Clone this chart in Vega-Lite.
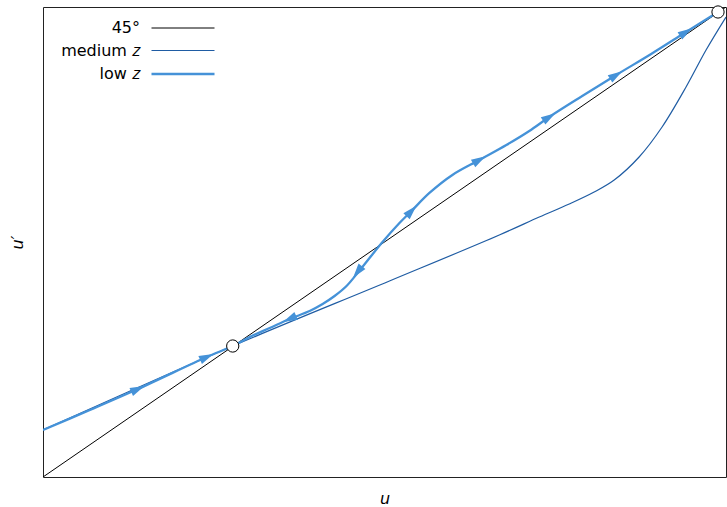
{
  "$schema": "https://vega.github.io/schema/vega-lite/v6.json",
  "width": 683,
  "height": 470,
  "autosize": {"type": "none"},
  "padding": {"left": 43, "top": 7, "right": 1, "bottom": 30},
  "background": "white",
  "config": {
    "font": "DejaVu Sans",
    "view": {"stroke": "#222222", "strokeWidth": 1},
    "axis": {"grid": false, "ticks": false, "labels": false, "domain": false, "titleFont": "DejaVu Sans", "titleFontSize": 16, "titleFontWeight": "normal", "titleFontStyle": "italic", "titleColor": "#000000"}
  },
  "datasets": {
    "curves": [
      {"series": "45°", "u": 0, "v": 0},
      {"series": "45°", "u": 1, "v": 1},
      {"series": "medium 𝑧", "u": 0, "v": 0.1},
      {"series": "medium 𝑧", "u": 0.2778, "v": 0.2787},
      {"series": "medium 𝑧", "u": 0.5073, "v": 0.417},
      {"series": "medium 𝑧", "u": 0.6681, "v": 0.5149},
      {"series": "medium 𝑧", "u": 0.7266, "v": 0.5532},
      {"series": "medium 𝑧", "u": 0.7705, "v": 0.5809},
      {"series": "medium 𝑧", "u": 0.807, "v": 0.6064},
      {"series": "medium 𝑧", "u": 0.8363, "v": 0.6319},
      {"series": "medium 𝑧", "u": 0.8728, "v": 0.6809},
      {"series": "medium 𝑧", "u": 0.9064, "v": 0.7447},
      {"series": "medium 𝑧", "u": 0.9415, "v": 0.8298},
      {"series": "medium 𝑧", "u": 0.9708, "v": 0.9085},
      {"series": "medium 𝑧", "u": 1.0, "v": 0.9787},
      {"series": "low 𝑧", "u": 0, "v": 0.1},
      {"series": "low 𝑧", "u": 0.0687, "v": 0.1426},
      {"series": "low 𝑧", "u": 0.1389, "v": 0.1872},
      {"series": "low 𝑧", "u": 0.2398, "v": 0.2553},
      {"series": "low 𝑧", "u": 0.2778, "v": 0.2787},
      {"series": "low 𝑧", "u": 0.3026, "v": 0.2979},
      {"series": "low 𝑧", "u": 0.3319, "v": 0.317},
      {"series": "low 𝑧", "u": 0.3611, "v": 0.3362},
      {"series": "low 𝑧", "u": 0.3904, "v": 0.3532},
      {"series": "low 𝑧", "u": 0.4094, "v": 0.3681},
      {"series": "low 𝑧", "u": 0.4269, "v": 0.3851},
      {"series": "low 𝑧", "u": 0.4444, "v": 0.4064},
      {"series": "low 𝑧", "u": 0.4605, "v": 0.434},
      {"series": "low 𝑧", "u": 0.4781, "v": 0.466},
      {"series": "low 𝑧", "u": 0.4971, "v": 0.5},
      {"series": "low 𝑧", "u": 0.5219, "v": 0.5404},
      {"series": "low 𝑧", "u": 0.5395, "v": 0.566},
      {"series": "low 𝑧", "u": 0.5658, "v": 0.6043},
      {"series": "low 𝑧", "u": 0.5994, "v": 0.6426},
      {"series": "low 𝑧", "u": 0.6389, "v": 0.6745},
      {"series": "low 𝑧", "u": 0.6784, "v": 0.7064},
      {"series": "low 𝑧", "u": 0.712, "v": 0.7362},
      {"series": "low 𝑧", "u": 0.7412, "v": 0.766},
      {"series": "low 𝑧", "u": 0.7895, "v": 0.8106},
      {"series": "low 𝑧", "u": 0.8392, "v": 0.8553},
      {"series": "low 𝑧", "u": 0.8904, "v": 0.9},
      {"series": "low 𝑧", "u": 0.9415, "v": 0.9468},
      {"series": "low 𝑧", "u": 0.9883, "v": 0.9894}
    ],
    "arrows": [
      {"u": 0.1389, "v": 0.1872, "angle": 336},
      {"u": 0.2398, "v": 0.2553, "angle": 336},
      {"u": 0.3611, "v": 0.3362, "angle": 155},
      {"u": 0.4605, "v": 0.4362, "angle": 128},
      {"u": 0.5395, "v": 0.566, "angle": 313},
      {"u": 0.6389, "v": 0.6745, "angle": 330},
      {"u": 0.7412, "v": 0.766, "angle": 328},
      {"u": 0.8392, "v": 0.8553, "angle": 328},
      {"u": 0.9415, "v": 0.9468, "angle": 328}
    ],
    "fixed": [
      {"u": 0.2778, "v": 0.2787},
      {"u": 0.9883, "v": 0.9894}
    ]
  },
  "layer": [
    {
      "data": {"name": "curves"},
      "mark": {"type": "line", "interpolate": "catmull-rom", "clip": true},
      "encoding": {
        "x": {"field": "u", "type": "quantitative", "scale": {"domain": [0, 1], "nice": false, "zero": false}, "axis": {"title": "u", "titlePadding": 13}},
        "y": {"field": "v", "type": "quantitative", "scale": {"domain": [0, 1], "nice": false, "zero": false}, "axis": {"title": "u′", "titlePadding": 18}},
        "color": {
          "field": "series", "type": "ordinal",
          "scale": {"domain": ["45°", "medium 𝑧", "low 𝑧"], "range": ["#000000", "#1f5ca3", "#4592d8"]},
          "legend": {
            "title": null, "orient": "none", "legendX": 128, "legendY": 10,
            "symbolType": "M-3,0H3", "symbolSize": 441, "labelAlign": "right", "labelOffset": -55,
            "labelFont": "DejaVu Sans", "labelFontSize": 16, "labelColor": "#000000", "rowPadding": 3, "padding": 0
          }
        },
        "strokeWidth": {
          "field": "series", "type": "ordinal",
          "scale": {"type": "ordinal", "domain": ["45°", "medium 𝑧", "low 𝑧"], "range": [1, 1.2, 2.3]},
          "legend": {
            "title": null, "orient": "none", "legendX": 128, "legendY": 10,
            "symbolType": "M-3,0H3", "symbolSize": 441, "labelAlign": "right", "labelOffset": -55,
            "labelFont": "DejaVu Sans", "labelFontSize": 16, "labelColor": "#000000", "rowPadding": 3, "padding": 0
          }
        }
      }
    },
    {
      "data": {"name": "arrows"},
      "mark": {"type": "point", "shape": "M1,0L-1,-0.6L-1,0.6Z", "filled": true, "color": "#4592d8", "opacity": 1, "size": 210},
      "encoding": {
        "x": {"field": "u", "type": "quantitative"},
        "y": {"field": "v", "type": "quantitative"},
        "angle": {"field": "angle", "type": "quantitative", "scale": null}
      }
    },
    {
      "data": {"name": "fixed"},
      "mark": {"type": "point", "shape": "circle", "filled": true, "fill": "white", "stroke": "#000000", "strokeWidth": 1, "opacity": 1, "size": 150},
      "encoding": {
        "x": {"field": "u", "type": "quantitative"},
        "y": {"field": "v", "type": "quantitative"}
      }
    }
  ]
}
